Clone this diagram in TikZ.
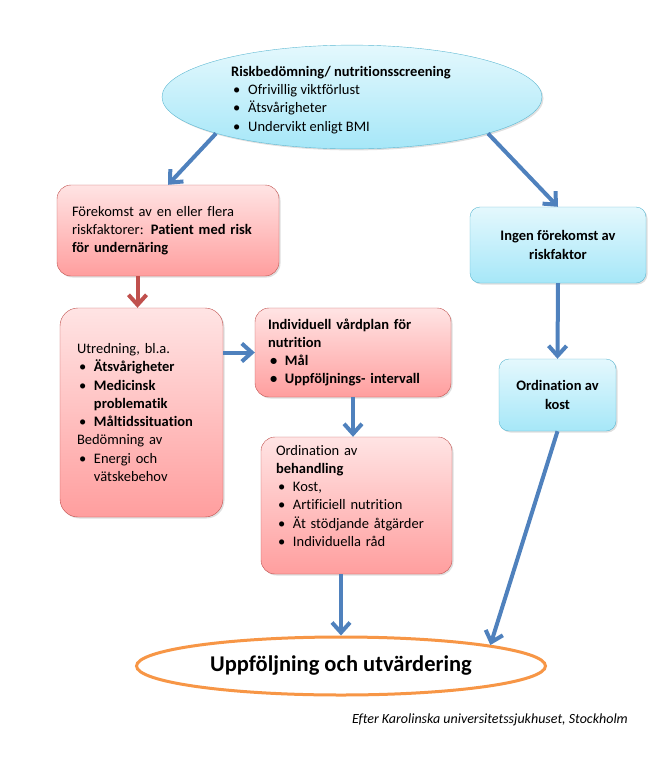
\documentclass[tikz,border=0pt]{standalone}
\usepackage{fontspec}
\setmainfont{Carlito}[Ligatures=NoCommon]
\usepackage{xcolor}
\usetikzlibrary{arrows.meta,positioning,shapes.geometric,shadows}
\definecolor{flowblue}{HTML}{4F81BD}
\definecolor{flowred}{HTML}{C0504D}
\definecolor{redtop}{HTML}{FFE4E4}
\definecolor{redbot}{HTML}{FF9E9E}
\definecolor{cyantop}{HTML}{E4F8FD}
\definecolor{cyanbot}{HTML}{A6E7F8}
\definecolor{cyanedge}{HTML}{5DB8D2}
\definecolor{evalorange}{HTML}{F79646}
\newcommand{\flowfont}{\fontsize{14.5}{18.3}\selectfont}
\newcommand{\blt}{\makebox[17pt][l]{\hspace{2pt}\textbullet}}
\tikzset{
  redbox/.style={draw=flowred,rounded corners=14pt,top color=redtop,bottom color=redbot,align=left,font=\flowfont,inner ysep=0pt,
    drop shadow={opacity=0.25,shadow xshift=1.5pt,shadow yshift=-1.5pt}},
  cyanbox/.style={draw=cyanedge,rounded corners=10pt,top color=cyantop,bottom color=cyanbot,align=center,font=\flowfont\bfseries,inner sep=0pt,
    drop shadow={opacity=0.25,shadow xshift=1.5pt,shadow yshift=-1.5pt}},
  flowarr/.style={-{Straight Barb[length=10pt,width=18pt]},line width=4pt,draw=flowblue},
  redarr/.style={flowarr,draw=flowred}
}
\begin{document}
\begin{tikzpicture}[x=1pt,y=-1pt]
\useasboundingbox (0,0) rectangle (662,764);
\node[ellipse,draw=cyanedge,top color=cyantop,bottom color=cyanbot,minimum width=380pt,minimum height=102pt,inner sep=0pt,
  align=left,font=\flowfont,drop shadow={opacity=0.25,shadow xshift=1.5pt,shadow yshift=-1.5pt}] (screen) at (352,97)
  {\rule{0pt}{16pt}\textbf{Riskbedömning/ nutritionsscreening}\hspace*{22pt}\\ \blt Ofrivillig viktförlust\\ \blt Ätsvårigheter\\ \blt Undervikt enligt BMI};
\node[redbox,text width=192pt,inner xsep=15pt,minimum height=91pt] (risk) at (168,230.5)
  {Förekomst av en eller flera\\ riskfaktorer: \textbf{Patient med risk}\\ \textbf{för undernäring}};
\node[redbox,text width=129pt,inner xsep=17pt,minimum height=209pt,rounded corners=18pt] (utred) at (141.5,412.5)
  {Utredning, bl.a.\\ \blt\textbf{Ätsvårigheter}\\ \blt\textbf{Medicinsk}\\ \hspace*{17pt}\textbf{problematik}\\
   \blt\textbf{Måltidssituation}\\ Bedömning av\\ \blt Energi och\\ \hspace*{17pt}vätskebehov};
\node[redbox,text width=170pt,inner xsep=13pt,minimum height=89pt,font=\flowfont\bfseries] (plan) at (353,352.5)
  {Individuell vårdplan för\\ nutrition\\ \blt Mål\\ \blt Uppföljnings- intervall};
\node[redbox,text width=161pt,inner xsep=15pt,inner ysep=8pt,minimum height=137pt] (treat) at (356.5,505.5)
  {\parbox[c][121pt][t]{161pt}{Ordination av\\ \textbf{behandling}\\ \blt Kost,\\ \blt Artificiell nutrition\\
   \blt Ät stödjande åtgärder\\ \blt Individuella råd}};
\node[cyanbox,minimum width=176pt,minimum height=76pt] (norisk) at (558,245) {Ingen förekomst av\\ riskfaktor};
\node[cyanbox,minimum width=117pt,minimum height=72pt] (diet) at (557.5,395) {Ordination av\\ kost};
\node[ellipse,draw=evalorange,line width=3pt,fill=white,minimum width=409pt,minimum height=58pt,inner sep=0pt,
  font=\fontsize{22.5}{26}\selectfont\bfseries] (followup) at (341,666) {Uppföljning och utvärdering};
\node[anchor=east,inner sep=0pt,font=\fontsize{14}{16}\selectfont\itshape] (credit) at (628,720)
  {Efter Karolinska universitetssjukhuset, Stockholm};
\draw[flowarr] (screen.195) -- (risk.north);
\draw[flowarr] (screen.345) -- (norisk.north);
\draw[redarr] ([xshift=-4pt]utred.north |- risk.south) -- ([xshift=-4pt]utred.north);
\draw[flowarr] (plan.west -| utred.east) -- (plan.west);
\draw[flowarr] (plan.south) -- (plan.south |- treat.north);
\draw[flowarr] (norisk.south) -- (diet.north);
\draw[flowarr] (followup.north |- treat.south) -- (followup.north);
\draw[flowarr] (diet.south) -- (followup.8);
\end{tikzpicture}
\end{document}
